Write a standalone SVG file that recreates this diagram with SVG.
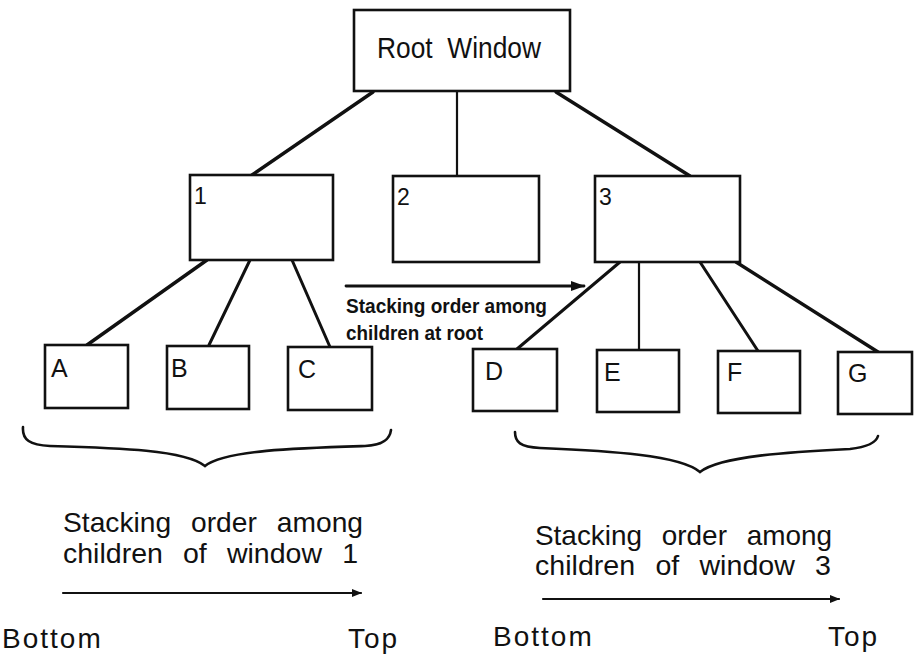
<svg xmlns="http://www.w3.org/2000/svg" width="915" height="656" viewBox="0 0 915 656">
<style>
.box{fill:#fff;stroke:#111;stroke-width:2.6}
.ln{fill:none;stroke:#111;stroke-width:3;stroke-linecap:round}
.thin{stroke-width:2.2}
.br{fill:none;stroke:#111;stroke-width:2.6;stroke-linecap:round}
.lbl{font-family:"Liberation Sans",Arial,sans-serif;font-size:25px;fill:#111}
.num{font-family:"Liberation Sans",Arial,sans-serif;font-size:23px;fill:#111}
.big{font-family:"Liberation Sans",Arial,sans-serif;font-size:29px;fill:#111}
.note{font-family:"Liberation Sans",Arial,sans-serif;font-size:20px;font-weight:bold;fill:#111}
.cap{font-family:"Liberation Sans",Arial,sans-serif;font-size:28px;fill:#111;word-spacing:12px}
.end{font-family:"Liberation Sans",Arial,sans-serif;font-size:28px;fill:#111;letter-spacing:2px}
</style>
<defs>
<marker id="ah" markerWidth="10" markerHeight="8" refX="9" refY="4" orient="auto" markerUnits="userSpaceOnUse">
<path d="M0,0 L10,4 L0,8 Z" fill="#111"/>
</marker>
<marker id="ah2" markerWidth="14" markerHeight="10" refX="13" refY="5" orient="auto" markerUnits="userSpaceOnUse">
<path d="M0,0 L14,5 L0,10 Z" fill="#111"/>
</marker>
</defs>
<rect width="915" height="656" fill="#fff"/>
<g id="connectors">
<line class="ln" x1="373" y1="92" x2="252" y2="175" style="stroke-width:3.4"/>
<line class="ln thin" x1="457" y1="92" x2="457" y2="175"/>
<line class="ln" x1="556" y1="92" x2="690" y2="176" style="stroke-width:3.4"/>
<line class="ln" x1="207" y1="260" x2="87" y2="345" style="stroke-width:3.4"/>
<line class="ln" x1="250" y1="260" x2="209" y2="345"/>
<line class="ln" x1="292" y1="260" x2="330" y2="347"/>
<line class="ln" x1="620" y1="262" x2="517" y2="349"/>
<line class="ln thin" x1="639" y1="262" x2="639" y2="350"/>
<line class="ln" x1="700" y1="262" x2="758" y2="351"/>
<line class="ln" x1="736" y1="262" x2="878" y2="352" style="stroke-width:3.4"/>
<line class="ln" x1="346" y1="286" x2="584" y2="286" style="stroke-width:2.8" marker-end="url(#ah2)"/>
<line class="ln" x1="63" y1="593" x2="361" y2="593" style="stroke-width:2.2" marker-end="url(#ah)"/>
<line class="ln" x1="543" y1="599" x2="839" y2="599" style="stroke-width:2.2" marker-end="url(#ah)"/>
</g>
<g id="root">
<rect class="box" x="354" y="10" width="216" height="81"/>
<text class="big" x="377" y="58" textLength="164" lengthAdjust="spacingAndGlyphs">Root&#160; Window</text>
</g>
<g id="w1"><rect class="box" x="190" y="175" width="143" height="85"/><text class="num" x="194" y="204">1</text></g>
<g id="w2"><rect class="box" x="393" y="176" width="146" height="86"/><text class="num" x="397" y="205">2</text></g>
<g id="w3"><rect class="box" x="595" y="176" width="145" height="86"/><text class="num" x="599" y="205">3</text></g>
<g id="wA"><rect class="box" x="45" y="345" width="83" height="63"/><text class="lbl" x="51" y="377">A</text></g>
<g id="wB"><rect class="box" x="167" y="346" width="82" height="63"/><text class="lbl" x="171" y="377">B</text></g>
<g id="wC"><rect class="box" x="288" y="347" width="84" height="63"/><text class="lbl" x="298" y="378">C</text></g>
<g id="wD"><rect class="box" x="473" y="349" width="84" height="62"/><text class="lbl" x="485" y="380">D</text></g>
<g id="wE"><rect class="box" x="597" y="350" width="82" height="62"/><text class="lbl" x="604" y="381">E</text></g>
<g id="wF"><rect class="box" x="718" y="351" width="82" height="62"/><text class="lbl" x="727" y="381">F</text></g>
<g id="wG"><rect class="box" x="838" y="352" width="74" height="62"/><text class="lbl" x="848" y="382">G</text></g>
<g id="root-note">
<text class="note" x="346" y="313" textLength="201" lengthAdjust="spacingAndGlyphs">Stacking order among</text>
<text class="note" x="346" y="340" textLength="137" lengthAdjust="spacingAndGlyphs">children at root</text>
</g>
<g id="brace1">
<path class="br" d="M23,427 C22,440 30,445 50,446 C120,448 185,450 205,466 C225,450 300,448 365,446 C385,445 390,438 391,430"/>
</g>
<g id="brace3">
<path class="br" d="M515,432 C515,442 520,447 540,448 C610,451 680,455 700,472 C720,456 790,452 850,449 C868,447 876,443 878,436"/>
</g>
<g id="cap1">
<text class="cap" x="63" y="532" textLength="300" lengthAdjust="spacingAndGlyphs">Stacking order among</text>
<text class="cap" x="63" y="563" textLength="295" lengthAdjust="spacingAndGlyphs">children of window 1</text>
<text class="end" x="2" y="648">Bottom</text>
<text class="end" x="348" y="648" letter-spacing="0">Top</text>
</g>
<g id="cap3">
<text class="cap" x="535" y="545" textLength="297" lengthAdjust="spacingAndGlyphs">Stacking order among</text>
<text class="cap" x="535" y="575" textLength="296" lengthAdjust="spacingAndGlyphs">children of window 3</text>
<text class="end" x="493" y="646">Bottom</text>
<text class="end" x="828" y="646" letter-spacing="0">Top</text>
</g>
</svg>
